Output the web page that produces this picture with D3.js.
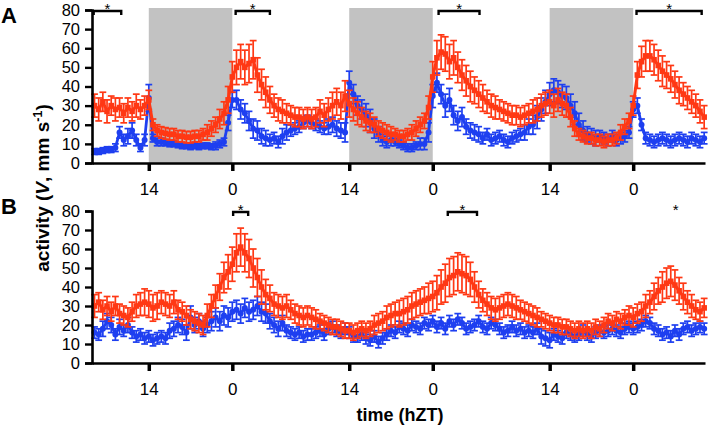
<!DOCTYPE html>
<html><head><meta charset="utf-8">
<script src="https://cdn.jsdelivr.net/npm/d3@7"></script>
<style>body{margin:0;background:#fff}svg{display:block}text{font-family:"Liberation Sans",Arial,Helvetica,sans-serif}</style>
</head><body>
<svg id="c" width="708" height="425"></svg>
<script>
// time grid (hours, continuous ZT), 30-min bins
const startHour = 7.5, binHours = 0.5;
const xTickValues = [14, 24, 38, 48, 62, 72];
const xTickLabels = ["14", "0", "14", "0", "14", "0"];
const yTickValues = [0, 10, 20, 30, 40, 50, 60, 70, 80];
const darkStarts = [14, 38, 62];
const darkEnds = [24, 48, 72];

const aBlue = [
6,6,6.5,7,7,8,16,12,14,17,
12,8,12,34,13,11,11,10.5,10,10,
9.5,9,9,8.5,9,8.5,9,9,8.5,9,
10,11,21,33,33,28,26,22,18,17,
14,13,12,13,11,14,16,17,18,19,
21,22,21,20,19,18,19,20,18,17,
16,42,36,30,28,25,22,18,15,12,
11,12,11,10,9,8,8,9,10,10,
16,35,42,36,30,33,25,22,24,19,
17,16,15,13,15,12,13,14,12,11,
13,14,15,16,19,20,24,28,32,36,
38,37,35,34,30,26,20,17,15,14,
13,14,13,12,14,12,13,14,16,28,
30,20,13,12,11,12,13,12,11,12,
13,12,11,13,12,11,13];
const aBlueErr = [
1.5,1.5,1.5,1.5,1.5,2,3,3,4,4,
3,2,3,7,2,2,2,1.5,1.5,1.5,
1.5,1.5,1.5,1.5,1.5,1.5,1.5,1.5,1.5,2,
2,2,4,4,5,5,5,5,5,5,
4,4,3,3,3,4,4,3,3,3,
3,3,3,3,3,3,4,4,4,4,
5,6,5,5,5,6,6,5,4,3,
3,3,2,2,2,2,2,2,3,3,
5,6,5,5,6,6,5,5,5,4,
4,4,4,3,3,3,3,3,3,3,
3,3,3,4,4,5,6,6,6,6,
6,6,6,6,6,6,6,5,4,4,
4,3,3,3,3,3,3,3,3,4,
4,3,3,3,3,3,3,3,3,3,
3,3,3,3,3,3,3];
const aRed = [
30,28,32,27,30,28,29,26,29,27,
30,28,30,33,20,17,16,15.5,15,15,
14,14,13.5,13.5,14,14,15,16,18,20,
23,26,33,45,50,53,50,52,54,46,
41,37,33,30,28,27,26,25,24,24,
23,24,23,24,27,25,28,30,32,30,
35,31,28,26,24,22,21,20,18,17,
16,15,15,14,14,15,16,18,20,22,
29,45,55,58,57,53,55,50,46,43,
40,38,36,34,32,30,29,28,27,26,
25,25,24,25,26,27,28,30,31,32,
30,33,31,30,24,18,15,14,13,13,
12,12,11,12,12,13,16,19,22,30,
46,53,56,56,54,51,48,46,44,41,
38,36,34,32,30,27,24];
const aRedErr = [
6,6,5,6,5,6,5,5,5,5,
6,5,5,5,3,3,3,3,3,3,
3,3,3,3,3,3,3,4,4,4,
5,6,7,8,9,9,9,10,10,9,
8,8,7,6,6,6,5,5,5,5,
5,5,5,5,6,6,6,7,7,7,
8,7,6,6,5,5,5,4,4,4,
4,4,3,3,3,3,4,4,4,4,
6,8,9,9,9,9,9,8,8,8,
8,7,7,7,6,6,6,5,5,5,
5,5,5,5,5,6,6,6,6,6,
6,6,6,6,5,4,3,3,3,3,
3,3,3,3,3,3,4,4,4,5,
7,8,8,8,8,8,8,7,7,7,
7,6,6,6,6,6,6];

const bBlue = [
16,15,18,22,20,15,19,17,20,16,
14,15,13,14,12,13,14,13,17,18,
20,19,16,24,20,22,18,20,22,24,
22,25,24,27,28,26,29,27,28,30,
27,26,22,20,18,21,17,16,15,16,
14,15,15,16,17,15,18,19,17,16,
18,16,14,14,15,13,12,14,11,13,
15,17,16,19,18,17,20,19,18,21,
20,22,19,21,18,22,20,23,21,18,
19,20,22,19,18,21,20,18,16,17,
19,17,18,16,17,16,18,14,13,12,
15,14,13,16,15,14,15,17,15,14,
16,17,16,17,18,17,16,18,19,18,
19,20,22,21,18,17,15,16,14,17,
15,18,19,17,18,19,18];
const bBlueErr = [
3,3,4,4,4,3,4,3,4,3,
3,3,3,3,3,3,3,3,4,4,
4,4,4,6,4,4,4,4,5,5,
5,5,5,5,5,5,5,5,5,5,
5,5,4,4,4,4,3,3,3,3,
3,3,3,3,3,3,3,3,3,3,
3,3,3,3,3,3,3,3,3,3,
3,3,3,3,3,3,3,3,3,3,
3,3,3,3,3,3,3,3,3,3,
3,3,3,3,3,3,3,3,3,3,
3,3,3,3,3,3,3,4,4,4,
3,3,3,3,3,3,3,3,3,3,
3,3,3,3,3,3,3,3,3,3,
3,3,3,3,3,3,3,3,3,3,
3,3,3,3,3,3,3];
const bRed = [
30,32,28,30,27,30,26,25,24,27,
30,31,32,31,29,30,32,31,30,32,
28,27,25,23,22,21,20,25,30,35,
40,45,48,52,58,61,58,55,50,45,
40,36,34,31,30,29,30,28,26,25,
24,25,24,23,22,21,20,19,19,18,
17,17,16,17,18,17,18,20,21,22,
24,25,26,26,27,28,30,31,32,33,
34,35,37,40,42,45,46,48,47,46,
44,40,36,33,31,29,28,29,30,31,
30,29,28,27,26,25,24,23,22,21,
20,20,19,19,18,17,18,17,18,17,
19,18,20,22,21,23,22,24,25,24,
26,27,30,32,35,38,40,42,43,41,
38,35,32,30,28,27,29];
const bRedErr = [
6,5,5,5,5,5,5,5,5,5,
6,6,7,7,7,7,6,6,6,6,
5,5,5,5,5,5,5,6,6,6,
7,8,9,9,10,10,10,10,10,10,
9,8,7,6,6,6,6,5,5,5,
5,5,5,5,4,4,4,4,4,4,
4,4,4,4,4,4,4,5,5,5,
6,6,6,7,7,7,7,7,7,7,
8,8,9,9,10,10,10,10,10,10,
9,8,7,6,6,6,6,6,6,6,
6,6,5,5,5,5,5,4,4,4,
4,4,4,4,4,4,4,4,4,4,
4,4,4,4,4,4,4,4,5,5,
5,5,6,6,7,7,8,8,8,8,
7,7,6,6,5,5,5];

// significance brackets (hours)
const sigAStart = [7.4, 24.4, 48.7, 72.4];
const sigAEnd = [10.7, 28.5, 53.6, 80.2];
const sigBStart = [24.1, 49.8];
const sigBEnd = [25.9, 53.3];
const sigBStarOnly = [77.1];

const BLUE = "#1e3ff0", RED = "#ff3814";
const svg = d3.select("#c");
const x = d3.scaleLinear().domain([7.2, 80.6]).range([92, 705]);

function drawPanel(yTop, yBottom, blue, blueErr, red, redErr, shade, sigS, sigE, starOnly) {
  const y = d3.scaleLinear().domain([0, 80]).range([yBottom, yTop]);
  const g = svg.append("g");
  const times = blue.map((_, i) => startHour + i * binHours);
  if (shade) {
    g.selectAll("rect.dark").data(darkStarts).enter().append("rect")
      .attr("x", (d) => x(d)).attr("width", (d, i) => x(darkEnds[i]) - x(d))
      .attr("y", y(80) - 2).attr("height", y(0) - y(80) + 2).attr("fill", "#c2c2c2");
  }
  function series(vals, errs, color, square, lw) {
    const s = g.append("g");
    const pts = vals.map((v, i) => ({t: times[i], v: v, e: errs[i]}));
    s.selectAll("line.eb").data(pts).enter().append("line")
      .attr("x1", d => x(d.t)).attr("x2", d => x(d.t))
      .attr("y1", d => y(d.v + d.e)).attr("y2", d => y(d.v - d.e))
      .attr("stroke", color).attr("stroke-width", 1.7);
    s.selectAll("line.cu").data(pts).enter().append("line")
      .attr("x1", d => x(d.t) - 3.4).attr("x2", d => x(d.t) + 3.4)
      .attr("y1", d => y(d.v + d.e)).attr("y2", d => y(d.v + d.e))
      .attr("stroke", color).attr("stroke-width", 1.7);
    s.selectAll("line.cl").data(pts).enter().append("line")
      .attr("x1", d => x(d.t) - 3.4).attr("x2", d => x(d.t) + 3.4)
      .attr("y1", d => y(d.v - d.e)).attr("y2", d => y(d.v - d.e))
      .attr("stroke", color).attr("stroke-width", 1.7);
    s.append("path").datum(pts)
      .attr("d", d3.line().x(d => x(d.t)).y(d => y(d.v)))
      .attr("fill", "none").attr("stroke", color).attr("stroke-width", lw);
    if (square) {
      s.selectAll("rect.m").data(pts).enter().append("rect")
        .attr("x", d => x(d.t) - 2.8).attr("y", d => y(d.v) - 2.8)
        .attr("width", 5.6).attr("height", 5.6).attr("fill", color);
    } else {
      s.selectAll("circle.m").data(pts).enter().append("circle")
        .attr("cx", d => x(d.t)).attr("cy", d => y(d.v)).attr("r", 3).attr("fill", color);
    }
  }
  series(blue, blueErr, BLUE, false, 2.8);
  series(red, redErr, RED, true, 3);

  // y axis
  const ya = g.append("g").attr("transform", `translate(${x.range()[0]},0)`)
    .call(d3.axisLeft(y).tickValues(yTickValues).tickSize(7).tickPadding(5));
  ya.select(".domain").attr("stroke", "#000").attr("stroke-width", 2.6);
  ya.selectAll(".tick line").attr("stroke", "#000").attr("stroke-width", 2.4);
  ya.selectAll(".tick text").attr("font-size", 16.5).attr("fill", "#000")
    .attr("font-family", "'Liberation Sans',Arial,sans-serif");
  // x axis
  const xa = g.append("g").attr("transform", `translate(0,${yBottom})`)
    .call(d3.axisBottom(x).tickValues(xTickValues).tickFormat((d, i) => xTickLabels[i]).tickSize(8).tickPadding(12).tickSizeOuter(0));
  xa.select(".domain").attr("stroke", "#000").attr("stroke-width", 2.6);
  xa.selectAll(".tick line").attr("stroke", "#000").attr("stroke-width", 3.5);
  xa.selectAll(".tick text").attr("font-size", 17).attr("fill", "#000")
    .attr("font-family", "'Liberation Sans',Arial,sans-serif");

  // significance
  const by = yTop + 1;
  sigS.forEach((s, i) => {
    const x1 = x(s), x2 = x(sigE[i]);
    g.append("path").attr("d", `M${x1},${by + 4}V${by}H${x2}V${by + 4}`)
      .attr("fill", "none").attr("stroke", "#000").attr("stroke-width", 2.4);
    g.append("text").attr("x", (x1 + x2) / 2).attr("y", by + 3).attr("text-anchor", "middle")
      .attr("font-size", 15).text("*");
  });
  starOnly.forEach(s => {
    g.append("text").attr("x", x(s)).attr("y", by + 3).attr("text-anchor", "middle")
      .attr("font-size", 15).text("*");
  });
}

drawPanel(10, 163, aBlue, aBlueErr, aRed, aRedErr, true, sigAStart, sigAEnd, []);
drawPanel(211, 363, bBlue, bBlueErr, bRed, bRedErr, false, sigBStart, sigBEnd, sigBStarOnly);

svg.append("text").attr("x", 1).attr("y", 23).attr("font-size", 22).attr("font-weight", "bold").text("A");
svg.append("text").attr("x", 1).attr("y", 214).attr("font-size", 22).attr("font-weight", "bold").text("B");

const yl = svg.append("text").attr("transform", "translate(49,188) rotate(-90)")
  .attr("text-anchor", "middle").attr("font-size", 19).attr("font-weight", "bold");
yl.append("tspan").text("activity (");
yl.append("tspan").attr("font-style", "italic").text("V");
yl.append("tspan").text(", mm s");
yl.append("tspan").attr("font-size", 12.5).attr("dy", -7).text("-1");
yl.append("tspan").attr("dy", 7).text(")");

svg.append("text").attr("x", 400).attr("y", 421).attr("text-anchor", "middle")
  .attr("font-size", 18).attr("font-weight", "bold").text("time (hZT)");
</script>
</body></html>
